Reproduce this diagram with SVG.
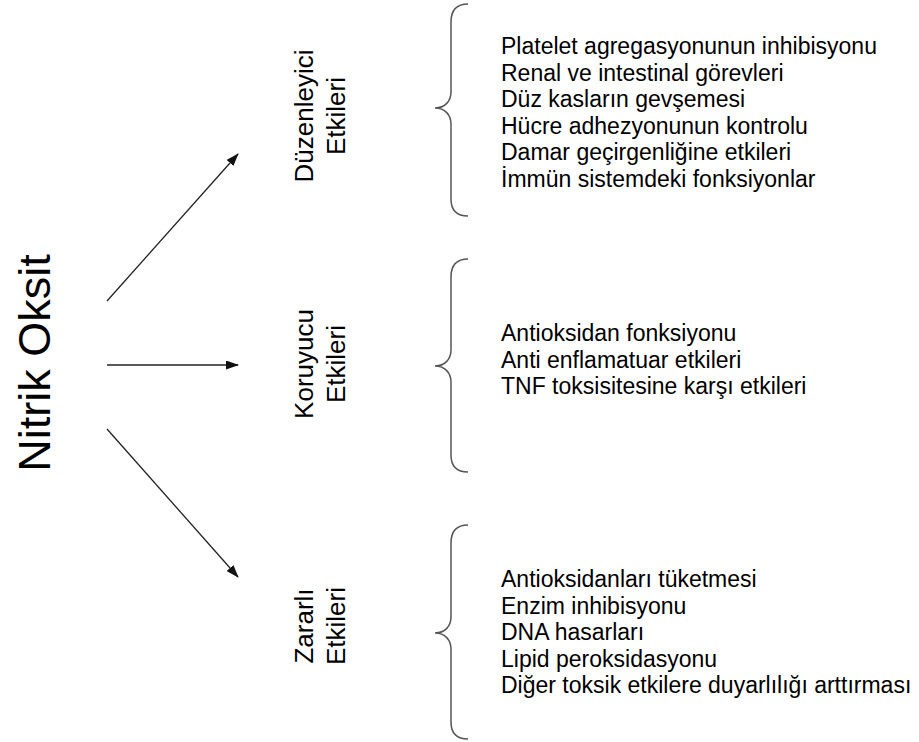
<svg xmlns="http://www.w3.org/2000/svg" width="919" height="742" viewBox="0 0 919 742">
<defs>
<marker id="ah" markerWidth="13" markerHeight="9" refX="12" refY="4.5" orient="auto" markerUnits="userSpaceOnUse">
<path d="M0,0 L13,4.5 L0,9 z" fill="#111"/>
</marker>
<style>
text{font-family:"Liberation Sans",Arial,sans-serif;fill:#000}
.title{font-size:45px}
.lab{font-size:26px}
.item{font-size:23px}
.brace{fill:none;stroke:#555;stroke-width:1.5}
.conn{stroke:#222;stroke-width:1.3;fill:none;marker-end:url(#ah)}
</style>
</defs>
<rect width="919" height="742" fill="#fff"/>
<g id="nitrik-oksit">
<text class="title" text-anchor="middle" transform="translate(50,363) rotate(-90)">Nitrik Oksit</text>
</g>
<g id="connectors">
<line class="conn" x1="107" y1="301" x2="238" y2="154"/>
<line class="conn" x1="107" y1="365" x2="238" y2="365"/>
<line class="conn" x1="107" y1="429" x2="238" y2="577"/>
</g>
<g id="duzenleyici">
<text class="lab" text-anchor="middle" transform="translate(313,116) rotate(-90)">Düzenleyici</text>
<text class="lab" text-anchor="middle" transform="translate(345,116) rotate(-90)">Etkileri</text>
<path class="brace" d="M468,4 C457,4 451,10 451,22 L451,92 C451,101 445,108 435,108 C445,108 451,115 451,124 L451,199 C451,210 457,216 468,216"/>
<text class="item" x="501" y="54">Platelet agregasyonunun inhibisyonu</text>
<text class="item" x="501" y="80.6">Renal ve intestinal görevleri</text>
<text class="item" x="501" y="107.2">Düz kasların gevşemesi</text>
<text class="item" x="501" y="133.8">Hücre adhezyonunun kontrolu</text>
<text class="item" x="501" y="160.4">Damar geçirgenliğine etkileri</text>
<text class="item" x="501" y="187">İmmün sistemdeki fonksiyonlar</text>
</g>
<g id="koruyucu">
<text class="lab" text-anchor="middle" transform="translate(313,364) rotate(-90)">Koruyucu</text>
<text class="lab" text-anchor="middle" transform="translate(345,364) rotate(-90)">Etkileri</text>
<path class="brace" d="M468,259 C457,259 451,265 451,277 L451,350 C451,359 445,366 435,366 C445,366 451,373 451,382 L451,455 C451,466 457,472 468,472"/>
<text class="item" x="501" y="341">Antioksidan fonksiyonu</text>
<text class="item" x="501" y="367.6">Anti enflamatuar etkileri</text>
<text class="item" x="501" y="394.2">TNF toksisitesine karşı etkileri</text>
</g>
<g id="zararli">
<text class="lab" text-anchor="middle" transform="translate(313,626) rotate(-90)">Zararlı</text>
<text class="lab" text-anchor="middle" transform="translate(345,626) rotate(-90)">Etkileri</text>
<path class="brace" d="M468,525 C457,525 451,531 451,543 L451,617 C451,626 445,633 435,633 C445,633 451,640 451,649 L451,722 C451,733 457,739 468,739"/>
<text class="item" x="501" y="587">Antioksidanları tüketmesi</text>
<text class="item" x="501" y="613.5">Enzim inhibisyonu</text>
<text class="item" x="501" y="640">DNA hasarları</text>
<text class="item" x="501" y="666.5">Lipid peroksidasyonu</text>
<text class="item" x="501" y="693">Diğer toksik etkilere duyarlılığı arttırması</text>
</g>
</svg>
